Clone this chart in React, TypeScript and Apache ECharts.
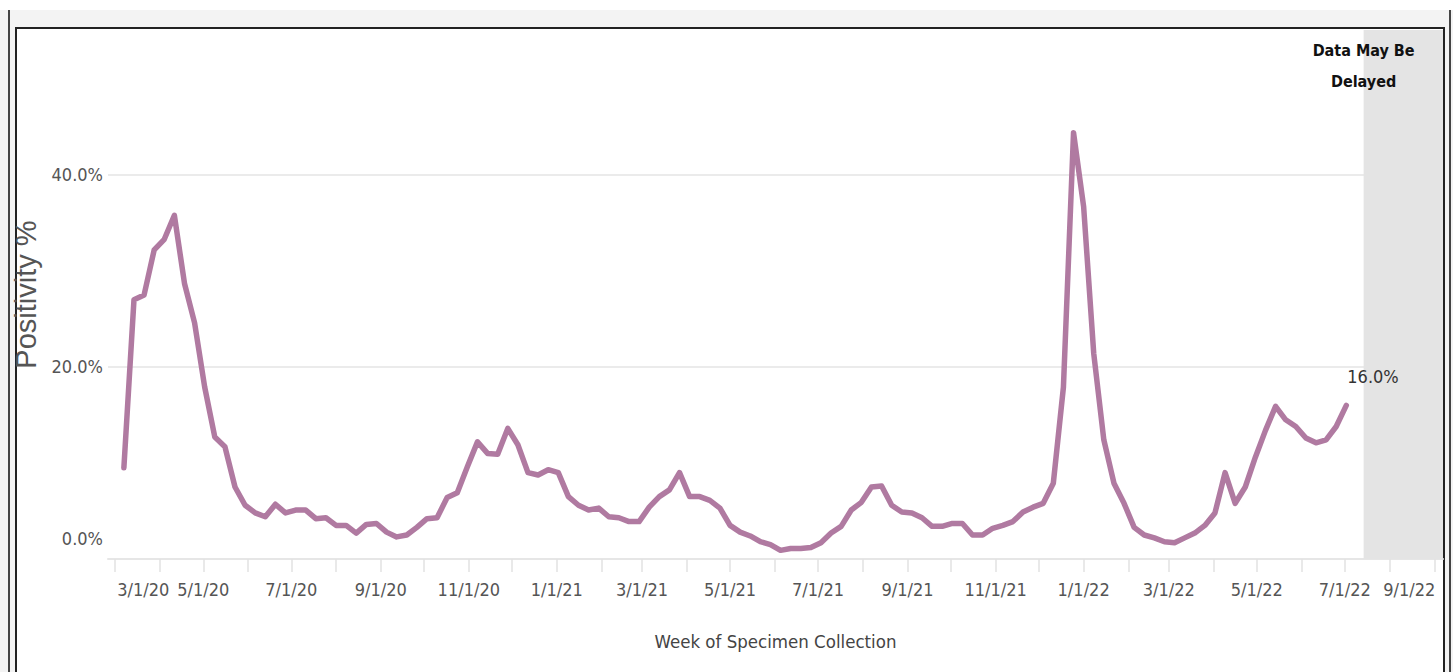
import React, { useEffect, useRef } from "react";
import * as echarts from "echarts";

// ---- data ----
const WEEK_START = [2020, 2, 7]; // first week (Mar 7, 2020), weekly points
const POSITIVITY = [
  9.5, 27.0, 27.5, 32.2, 33.3, 35.8, 28.7, 24.6, 17.9, 12.7,
  11.7, 7.5, 5.6, 4.8, 4.4, 5.7, 4.8, 5.1, 5.1, 4.2,
  4.3, 3.5, 3.5, 2.7, 3.6, 3.7, 2.8, 2.3, 2.5, 3.3,
  4.2, 4.3, 6.4, 6.9, 9.6, 12.2, 11.0, 10.9, 13.6, 11.9,
  9.0, 8.75, 9.3, 9.0, 6.5, 5.6, 5.1, 5.3, 4.4, 4.3,
  3.9, 3.9, 5.4, 6.5, 7.2, 9.0, 6.5, 6.5, 6.1, 5.3,
  3.5, 2.8, 2.4, 1.8, 1.5, 0.9, 1.1, 1.1, 1.2, 1.7,
  2.7, 3.4, 5.1, 5.9, 7.5, 7.6, 5.6, 4.9, 4.8, 4.3,
  3.4, 3.4, 3.7, 3.7, 2.5, 2.5, 3.2, 3.5, 3.9, 4.9,
  5.4, 5.8, 7.9, 17.9, 44.4, 36.7, 21.4, 12.4, 7.9, 5.8,
  3.3, 2.5, 2.2, 1.8, 1.7, 2.2, 2.7, 3.5, 4.8, 9.0,
  5.8, 7.5, 10.6, 13.4, 15.9, 14.5, 13.8, 12.6, 12.1, 12.4,
  13.8, 16.0,
];
const AXIS_MIN = [2020, 1, 25];
const AXIS_MAX = [2022, 8, 7];
const DELAY_START = [2022, 6, 14];
const DELAY_TEXT = "Data May Be\nDelayed";
const X_TITLE = "Week of Specimen Collection";
const Y_TITLE = "Positivity %";
const Y_TICKS = [0, 20, 40];

const NARROW =
  "'Liberation Sans Narrow', 'Arial Narrow', 'DejaVu Sans Condensed', 'Liberation Sans', Arial, sans-serif";
const REGULAR = "'Liberation Sans', Arial, sans-serif";
const DAY = 86400000;

function ts(a: number[]) {
  return new Date(a[0], a[1], a[2]).getTime();
}

export default function App() {
  const ref = useRef<HTMLDivElement>(null);
  useEffect(() => {
    if (!ref.current) return;
    const chart = echarts.init(ref.current, undefined, { renderer: "svg" });
    const data = POSITIVITY.map((v, i) => {
      const d = new Date(WEEK_START[0], WEEK_START[1], WEEK_START[2] + 7 * i);
      return [d.getTime(), v];
    });
    const minTs = ts(AXIS_MIN);
    const maxTs = ts(AXIS_MAX);
    const labelStyle = { color: "#555", fontFamily: NARROW, fontSize: 18 };
    const option: any = {
      animation: false,
      grid: { left: 108, right: 10, top: 30, bottom: 113, containLabel: false, outerBoundsMode: "none" },
      xAxis: {
        type: "time",
        min: minTs,
        max: maxTs,
        minInterval: 28 * DAY,
        maxInterval: 31 * DAY,
        axisLine: { show: true, lineStyle: { color: "#e6e6e6", width: 2 } },
        axisTick: { show: true, interval: 0, length: 13, lineStyle: { color: "#e2e2e2", width: 1.5 } },
        splitLine: { show: false },
        axisLabel: {
          interval: 0,
          hideOverlap: false,
          margin: 21,
          ...labelStyle,
          formatter: (value: number) => {
            const d = new Date(value);
            const m = d.getMonth() + 1;
            if (d.getDate() !== 1 || m % 2 === 0) return "";
            const txt = `${m}/1/${String(d.getFullYear()).slice(2)}`;
            if (value - minTs < 40 * DAY) return `{first|${txt}}`;
            if (maxTs - value < 40 * DAY) return `{last|${txt}}`;
            return txt;
          },
          rich: {
            first: { ...labelStyle, padding: [0, 0, 0, 56] },
            last: { ...labelStyle, padding: [0, 50, 0, 0] },
          },
        },
        name: X_TITLE,
        nameLocation: "middle",
        nameGap: 73,
        nameTextStyle: { fontFamily: NARROW, fontSize: 18.5, color: "#444" },
      },
      yAxis: {
        type: "value",
        min: 0,
        max: 55.1,
        interval: 20,
        axisLine: { show: false },
        axisTick: { show: false },
        splitLine: { show: true, showMaxLine: false, lineStyle: { color: "#ebebeb", width: 2 } },
        axisLabel: {
          margin: 5,
          ...labelStyle,
          formatter: (v: number) => {
            if (!Y_TICKS.includes(v)) return "";
            if (v === 0) return "{z|0.0%}";
            return v.toFixed(1) + "%";
          },
          rich: {
            z: { ...labelStyle, padding: [0, 0, 42, 0] },
          },
        },
        name: Y_TITLE,
        nameLocation: "middle",
        nameGap: 64,
        nameTextStyle: { fontFamily: REGULAR, fontSize: 29, color: "#555" },
      },
      series: [
        {
          type: "line",
          data,
          showSymbol: false,
          symbol: "none",
          lineStyle: { color: "#b07aa1", width: 5.5, cap: "round", join: "round" },
          itemStyle: { color: "#b07aa1" },
          emphasis: { disabled: true },
          endLabel: {
            show: true,
            distance: 1,
            offset: [0, -29],
            color: "#333",
            fontFamily: NARROW,
            fontSize: 18,
            formatter: (p: any) => Number(p.value[1]).toFixed(1) + "%",
          },
          markArea: {
            silent: true,
            itemStyle: { color: "#e4e4e4" },
            label: {
              show: true,
              position: [0, 5],
              align: "center",
              verticalAlign: "top",
              formatter: DELAY_TEXT,
              color: "#111",
              fontWeight: "bold",
              fontSize: 16,
              lineHeight: 31,
              fontFamily: NARROW,
            },
            data: [[{ xAxis: ts(DELAY_START) }, { xAxis: maxTs }]],
          },
        },
      ],
    };
    chart.setOption(option);
    return () => chart.dispose();
  }, []);

  return (
    <div style={{ position: "fixed", left: 0, top: 0, width: 1453, height: 672, background: "#fff", overflow: "hidden" }}>
      <div style={{ position: "absolute", left: 0, top: 10, width: 1453, height: 662, background: "#f3f3f3" }} />
      <div style={{ position: "absolute", left: 8, top: 10, width: 1.5, height: 662, background: "#444" }} />
      <div style={{ position: "absolute", left: 1449, top: 10, width: 1.5, height: 662, background: "#444" }} />
      <div
        style={{
          position: "absolute",
          left: 15,
          top: 27,
          width: 1430,
          height: 700,
          background: "#fff",
          border: "2px solid #222",
          boxSizing: "border-box",
        }}
      />
      <div ref={ref} style={{ position: "absolute", left: 0, top: 0, width: 1453, height: 672 }} />
    </div>
  );
}
